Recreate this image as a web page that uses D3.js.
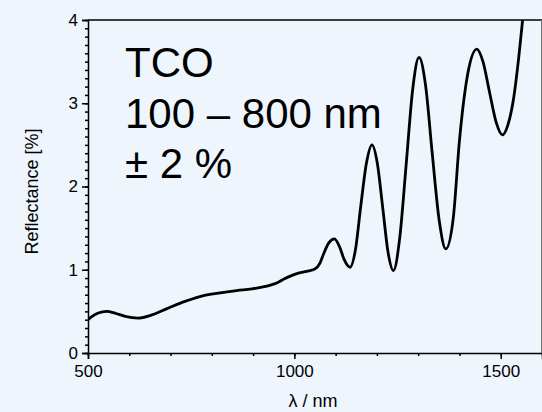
<!DOCTYPE html>
<html>
<head>
<meta charset="utf-8">
<script src="https://cdn.jsdelivr.net/npm/d3@7"></script>
<style>
  body { margin: 0; background: #eef5fd; }
  svg { display: block; font-family: "Liberation Sans", Arial, sans-serif; }
</style>
</head>
<body>
<div id="chart"></div>
<script>
// wavelength (nm) and reflectance (%)
const wavelength = [500, 510, 525, 545, 565, 590, 622, 650, 690, 735, 780, 816, 860, 897, 930, 961, 975, 993, 1010, 1030, 1050, 1062, 1070, 1083, 1097, 1110, 1120, 1135, 1148, 1161, 1175, 1188, 1201, 1214, 1227, 1240, 1255, 1271, 1287, 1302, 1318, 1334, 1351, 1367, 1385, 1400, 1420, 1442, 1457, 1473, 1489, 1504, 1518, 1531, 1543, 1553, 1565];
const reflectance = [0.40, 0.44, 0.48, 0.50, 0.48, 0.44, 0.42, 0.45, 0.53, 0.62, 0.69, 0.72, 0.75, 0.77, 0.80, 0.85, 0.89, 0.93, 0.96, 0.98, 1.01, 1.08, 1.18, 1.32, 1.37, 1.27, 1.13, 1.03, 1.24, 1.77, 2.29, 2.50, 2.28, 1.75, 1.21, 0.99, 1.37, 2.27, 3.18, 3.55, 3.21, 2.40, 1.59, 1.25, 1.62, 2.55, 3.35, 3.65, 3.50, 3.13, 2.77, 2.62, 2.75, 3.05, 3.52, 4.0, 4.6];
const xMajor = [500, 1000, 1500];
const yMajor = [0, 1, 2, 3, 4];
const annotation = ['TCO', '100 \u2013 800 nm', '\u00b1 2 %'];

const data = wavelength.map((w, i) => ({ w: w, r: reflectance[i] }));

let margin = { top: 20, right: 0, bottom: 59, left: 88 },
	width = 542 - margin.left - margin.right,
	height = 412 - margin.top - margin.bottom;

var svg = d3
	.select('#chart')
	.append('svg')
	.attr('width', 542)
	.attr('height', 412)
	.append('g')
	.attr('transform', 'translate(' + margin.left + ',' + margin.top + ')');

var x = d3.scaleLinear().domain([500, 1600]).range([0, width]);
var y = d3.scaleLinear().domain([0, 4]).range([height, 0]);

svg.append('defs').append('clipPath').attr('id', 'clip')
	.append('rect').attr('width', width).attr('height', height);

// frame: top and right
svg.append('line').attr('x1', 0).attr('x2', width).attr('y1', 0).attr('y2', 0)
	.attr('stroke', '#000').attr('stroke-width', 1.5);
svg.append('line').attr('x1', width - 0.5).attr('x2', width - 0.5).attr('y1', 0).attr('y2', height)
	.attr('stroke', '#777').attr('stroke-width', 1);

// x axis: minor then major
svg.append('g')
	.attr('transform', 'translate(0,' + height + ')')
	.call(d3.axisBottom(x).ticks(11).tickSize(3).tickFormat(''))
	.call((g) => g.select('.domain').remove());
var xAxis = svg.append('g')
	.attr('transform', 'translate(0,' + height + ')')
	.call(d3.axisBottom(x).tickValues(xMajor).tickSize(6).tickPadding(6).tickFormat(d3.format('d')));

// y axis
svg.append('g')
	.call(d3.axisLeft(y).ticks(40).tickSize(3).tickFormat(''))
	.call((g) => g.select('.domain').remove());
var yAxis = svg.append('g')
	.call(d3.axisLeft(y).tickValues(yMajor).tickSize(6).tickPadding(4).tickFormat(d3.format('d')));

svg.selectAll('.tick line').attr('stroke', '#000').attr('stroke-width', 1.5);
svg.selectAll('.domain').attr('stroke', '#000').attr('stroke-width', 1.5);
xAxis.selectAll('text').attr('font-size', 17).attr('fill', '#000');
yAxis.selectAll('text').attr('font-size', 17).attr('fill', '#000');

// curve
var line = d3.line()
	.x((d) => x(d.w))
	.y((d) => y(d.r))
	.curve(d3.curveMonotoneX);

svg.append('path')
	.datum(data)
	.attr('clip-path', 'url(#clip)')
	.attr('fill', 'none')
	.attr('stroke', '#000')
	.attr('stroke-width', 2.8)
	.attr('stroke-linejoin', 'round')
	.attr('d', line);

// labels
svg.append('text')
	.attr('x', width / 2 - 2)
	.attr('y', 387)
	.attr('text-anchor', 'middle')
	.attr('font-size', 18)
	.text('\u03bb / nm');

svg.append('text')
	.attr('transform', 'translate(-50,' + (height / 2 + 5) + ') rotate(-90)')
	.attr('text-anchor', 'middle')
	.attr('font-size', 18)
	.text('Reflectance [%]');

svg.selectAll('.note')
	.data(annotation)
	.enter()
	.append('text')
	.attr('class', 'note')
	.attr('x', 37)
	.attr('y', (d, i) => 57 + i * 50.7)
	.attr('font-size', 42)
	.text((d) => d);
</script>
</body>
</html>
